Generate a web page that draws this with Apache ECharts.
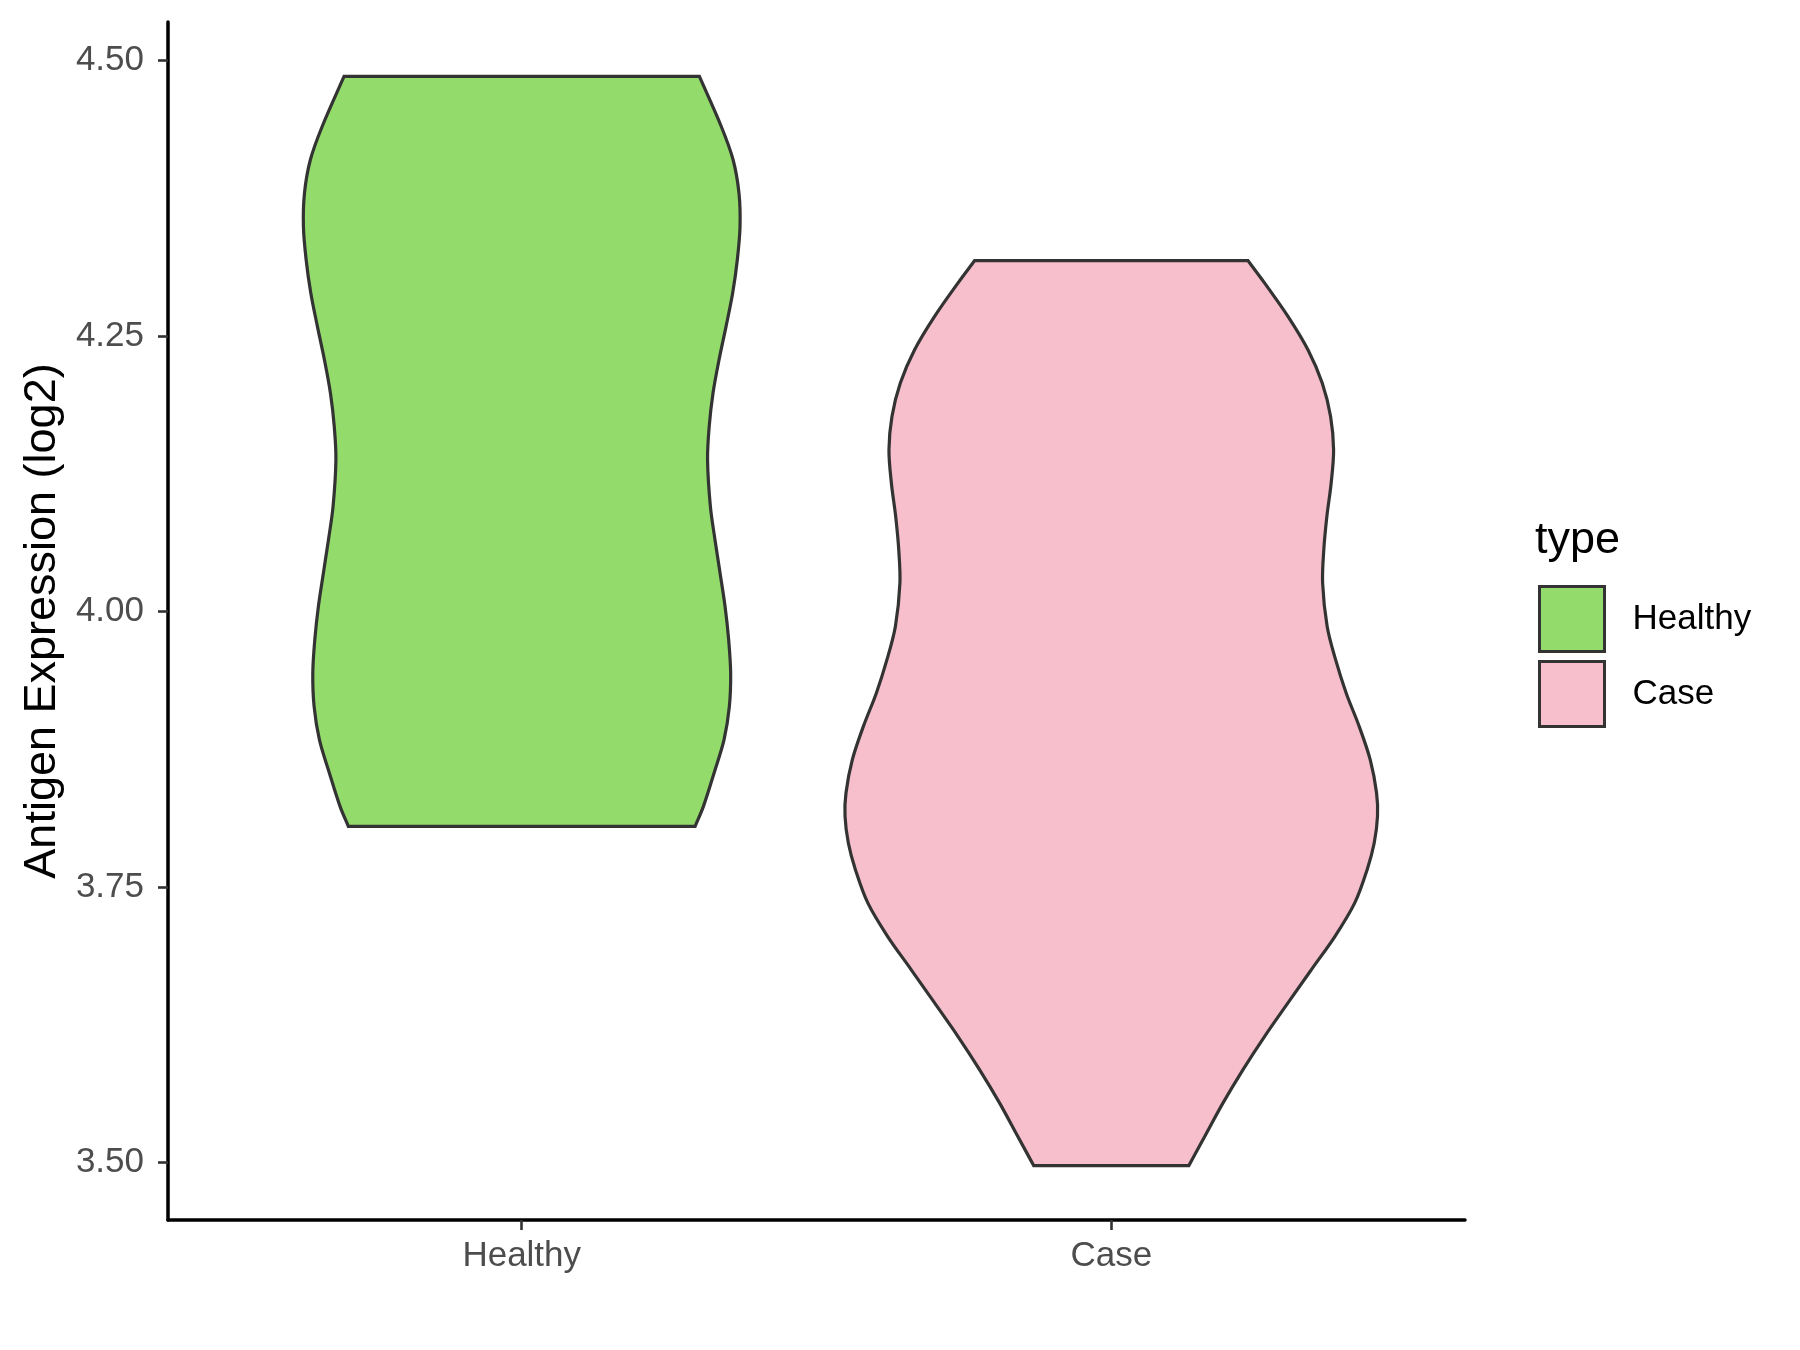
<!DOCTYPE html>
<html>
<head>
<meta charset="utf-8">
<script src="https://cdn.jsdelivr.net/npm/echarts@6/dist/echarts.min.js"></script>
<style>
  html, body { margin: 0; padding: 0; background: #ffffff; }
  #chart { width: 1800px; height: 1350px; }
</style>
</head>
<body>
<div id="chart"></div>
<script>
// ---- data ----
const categories = ['Healthy', 'Case'];
const categoryPositions = [1, 2];
const yTicks = [3.5, 3.75, 4.0, 4.25, 4.5];

// Healthy violin outline: y value and half width (in category units), top to bottom
const healthyY = [4.4856, 4.4402, 4.4100, 4.3798, 4.3495, 4.3193, 4.2891, 4.2588, 4.2286, 4.1984,
  4.1681, 4.1379, 4.0955, 4.0653, 4.0351, 4.0048, 3.9746, 3.9443, 3.9140,
  3.8838, 3.8536, 3.8233, 3.8052];
const healthyHalfWidth = [0.3014, 0.3385, 0.3585, 0.3685, 0.3703, 0.3657, 0.3578, 0.3466, 0.3347, 0.3245,
  0.3180, 0.3152, 0.3200, 0.3278, 0.3364, 0.3449, 0.3510, 0.3544, 0.3522,
  0.3432, 0.3263, 0.3082, 0.2941];

// Case violin outline
const caseY = [4.3184, 4.2981, 4.2679, 4.2376, 4.2074, 4.1771, 4.1469, 4.1167, 4.0864, 4.0562,
  4.0260, 3.9866, 3.9564, 3.9262, 3.8959, 3.8657, 3.8355, 3.8143, 3.7901, 3.7659,
  3.7357, 3.7054, 3.6752, 3.6450, 3.6147, 3.5845, 3.5543, 3.5240, 3.4974];
const caseHalfWidth = [0.2320, 0.2602, 0.2997, 0.3336, 0.3578, 0.3720, 0.3771, 0.3730, 0.3657, 0.3605,
  0.3585, 0.3662, 0.3805, 0.3984, 0.4205, 0.4392, 0.4500, 0.4516, 0.4460, 0.4340,
  0.4130, 0.3795, 0.3395, 0.2997, 0.2602, 0.2235, 0.1896, 0.1587, 0.1316];

const profiles = [
  { y: healthyY, hw: healthyHalfWidth },
  { y: caseY, hw: caseHalfWidth }
];
const fillColors = ['#93DB6B', '#F7BFCB'];
const FONT = '"Liberation Sans", Arial, sans-serif';

// Smooth curve x(y) through pixel points (non-uniform spacing aware cubic Hermite rendering)
function smoothSegments(pts) {
  const n = pts.length;
  const m = pts.map((p, i) => {
    const a = pts[Math.max(0, i - 1)];
    const b = pts[Math.min(n - 1, i + 1)];
    const dy = b[1] - a[1];
    return dy === 0 ? 0 : (b[0] - a[0]) / dy;
  });
  let d = '';
  for (let i = 0; i < n - 1; i++) {
    const p1 = pts[i], p2 = pts[i + 1];
    const h = p2[1] - p1[1];
    const c1x = p1[0] + m[i] * h / 3, c1y = p1[1] + h / 3;
    const c2x = p2[0] - m[i + 1] * h / 3, c2y = p2[1] - h / 3;
    d += ' C' + c1x + ' ' + c1y + ' ' + c2x + ' ' + c2y + ' ' + p2[0] + ' ' + p2[1];
  }
  return d;
}

function renderViolin(params, api) {
  const idx = params.seriesIndex;
  const prof = profiles[idx];
  const cx = categoryPositions[idx];
  const left = prof.y.map((v, i) => api.coord([cx - prof.hw[i], v]));
  const right = prof.y.map((v, i) => api.coord([cx + prof.hw[i], v]));
  const rightRev = right.slice().reverse();
  let d = 'M' + left[0][0] + ' ' + left[0][1];
  d += smoothSegments(left);
  d += ' L' + rightRev[0][0] + ' ' + rightRev[0][1];
  d += smoothSegments(rightRev);
  d += ' Z';
  return {
    type: 'path',
    shape: { pathData: d },
    style: { fill: fillColors[idx], stroke: '#333333', lineWidth: 3.2, lineJoin: 'miter' }
  };
}

const chart = echarts.init(document.getElementById('chart'), null, { renderer: 'canvas' });
chart.setOption({
  backgroundColor: '#ffffff',
  animation: false,
  title: {
    text: 'type',
    left: 1535,
    top: 518,
    padding: 0,
    textStyle: { fontFamily: FONT, fontSize: 45, fontWeight: 'normal', color: '#000000' }
  },
  legend: {
    orient: 'vertical',
    left: 1538,
    top: 585,
    padding: 0,
    itemWidth: 65,
    itemHeight: 65,
    itemGap: 7,
    icon: 'rect',
    data: categories,
    itemStyle: { borderColor: '#333333', borderWidth: 3 },
    textStyle: { fontFamily: FONT, fontSize: 35, color: '#000000', padding: [0, 0, 0, 23] }
  },
  grid: { left: 168, top: 22, width: 1297, height: 1198, containLabel: false },
  xAxis: {
    type: 'value',
    min: 0.4,
    max: 2.6,
    splitLine: { show: false },
    axisLine: { show: true, onZero: false, lineStyle: { color: '#000000', width: 3.5 } },
    axisTick: { show: true, customValues: categoryPositions, length: 10, lineStyle: { color: '#333333', width: 2.6 } },
    axisLabel: {
      customValues: categoryPositions,
      formatter: v => categories[Math.round(v) - 1] || '',
      fontFamily: FONT, fontSize: 35, color: '#4D4D4D', margin: 19
    }
  },
  yAxis: {
    type: 'value',
    min: 3.448,
    max: 4.535,
    name: 'Antigen Expression (log2)',
    nameLocation: 'middle',
    nameGap: 103,
    nameTextStyle: { fontFamily: FONT, fontSize: 45, color: '#000000' },
    splitLine: { show: false },
    axisLine: { show: true, onZero: false, lineStyle: { color: '#000000', width: 3.5 } },
    axisTick: { show: true, customValues: yTicks, length: 10, lineStyle: { color: '#333333', width: 2.6 } },
    axisLabel: {
      customValues: yTicks,
      formatter: v => Number(v).toFixed(2),
      fontFamily: FONT, fontSize: 35, color: '#4D4D4D', margin: 24
    }
  },
  series: categories.map((name, i) => ({
    type: 'custom',
    name: name,
    coordinateSystem: 'cartesian2d',
    renderItem: renderViolin,
    itemStyle: { color: fillColors[i], borderColor: '#333333', borderWidth: 3 },
    encode: { x: 0, y: 1 },
    data: [[categoryPositions[i], profiles[i].y[0]]],
    silent: true
  }))
});
</script>
</body>
</html>
